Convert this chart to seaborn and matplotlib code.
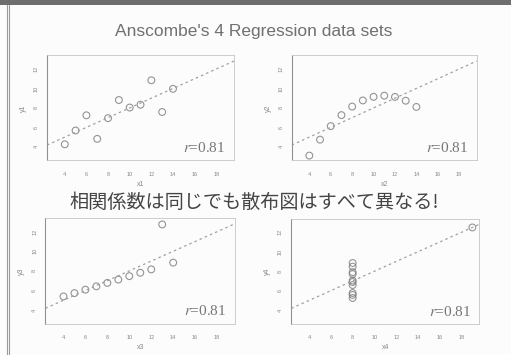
import numpy as np
import matplotlib
matplotlib.use("Agg")
import matplotlib.pyplot as plt
from matplotlib.lines import Line2D
from matplotlib.patches import Rectangle
import seaborn as sns

# ── Anscombe's quartet ──────────────────────────────────────────────────────
x123 = [10, 8, 13, 9, 11, 14, 6, 4, 12, 7, 5]
y1 = [8.04, 6.95, 7.58, 8.81, 8.33, 9.96, 7.24, 4.26, 10.84, 4.82, 5.68]
y2 = [9.14, 8.14, 8.74, 8.77, 9.26, 8.10, 6.13, 3.10, 9.13, 7.26, 4.74]
y3 = [7.46, 6.77, 12.74, 7.11, 7.81, 8.84, 6.08, 5.39, 8.15, 6.42, 5.73]
x4 = [8, 8, 8, 8, 8, 8, 8, 19, 8, 8, 8]
y4 = [6.58, 5.76, 7.71, 8.84, 8.47, 7.04, 5.25, 12.50, 5.56, 7.91, 6.89]

x_labels = ["x1", "x2", "x3", "x4"]
y_labels = ["y1", "y2", "y3", "y4"]
r_text = "0.81"
x_ticks = [4, 6, 8, 10, 12, 14, 16, 18]
y_ticks = [4, 6, 8, 10, 12]

TITLE = "Anscombe's 4 Regression data sets"
NOTE = "相関係数は同じでも散布図はすべて異なる!"

sns.set_theme(style="white")
plt.rcParams["font.family"] = ["Liberation Sans", "DejaVu Sans"]
plt.rcParams["mathtext.fontset"] = "stix"

fig = plt.figure(figsize=(5.11, 3.55), dpi=100)
fig.patch.set_facecolor("#fcfcfc")

# slide decoration: dark strip on top, double rule on the left
fig.add_artist(Rectangle((0, 1 - 5 / 355), 1, 5 / 355, transform=fig.transFigure,
                         color="#6e6e6e", lw=0))
for xp in (6.5 / 511, 9 / 511):
    fig.add_artist(Line2D([xp, xp], [0, 1 - 5 / 355], transform=fig.transFigure,
                          color="#9a9a9a", lw=0.8))

positions = [
    [0.092, 0.548, 0.366, 0.296],
    [0.571, 0.548, 0.362, 0.296],
    [0.089, 0.088, 0.371, 0.298],
    [0.570, 0.088, 0.368, 0.296],
]
datasets = [(x123, y1), (x123, y2), (x123, y3), (x4, y4)]

for i, (pos, (xs, ys)) in enumerate(zip(positions, datasets)):
    ax = fig.add_axes(pos)
    ax.set_facecolor("none")
    ax.set_xlim(2.36, 19.64)
    ax.set_ylim(2.6, 13.4)
    sns.regplot(
        x=np.array(xs, dtype=float), y=np.array(ys, dtype=float), ax=ax,
        ci=None, truncate=False,
        scatter_kws=dict(color="none", edgecolors="#7a7a7a", s=24, linewidths=0.8),
        line_kws=dict(color="#a0a0a0", lw=0.9, ls=(0, (2, 2.5))),
    )
    ax.set_xlim(2.36, 19.64)
    ax.set_ylim(2.6, 13.4)

    for side in ("top", "right", "bottom"):
        ax.spines[side].set_color("#c4c4c4")
        ax.spines[side].set_linewidth(0.6)
    ax.spines["left"].set_color("#909090")
    ax.spines["left"].set_linewidth(0.8)

    ax.set_xticks(x_ticks)
    ax.set_yticks(y_ticks)
    ax.tick_params(axis="x", direction="out", length=2, width=0.5, color="#999",
                   labelsize=4, labelcolor="#888", pad=6)
    ax.tick_params(axis="y", direction="out", length=2, width=0.5, color="#999",
                   labelsize=4, labelcolor="#888", pad=4)
    plt.setp(ax.get_yticklabels(), rotation=90, va="center")
    ax.set_xlabel(x_labels[i], fontsize=5, color="#888", labelpad=3)
    ax.set_ylabel(y_labels[i], fontsize=5, color="#888", labelpad=5)

    ax.text(0.955, 0.05, r"$r$=" + r_text, transform=ax.transAxes,
            ha="right", va="bottom", fontsize=11, color="#777",
            family="Liberation Serif")

fig.text(0.497, 0.91, TITLE, ha="center", va="center", fontsize=12.5, color="#707070")
fig.text(0.498, 0.43, NOTE, ha="center", va="center", fontsize=13.8, color="#444444",
         family=["Noto Sans CJK JP", "DejaVu Sans"])

fig.savefig("out.png", dpi=100, facecolor=fig.get_facecolor())
